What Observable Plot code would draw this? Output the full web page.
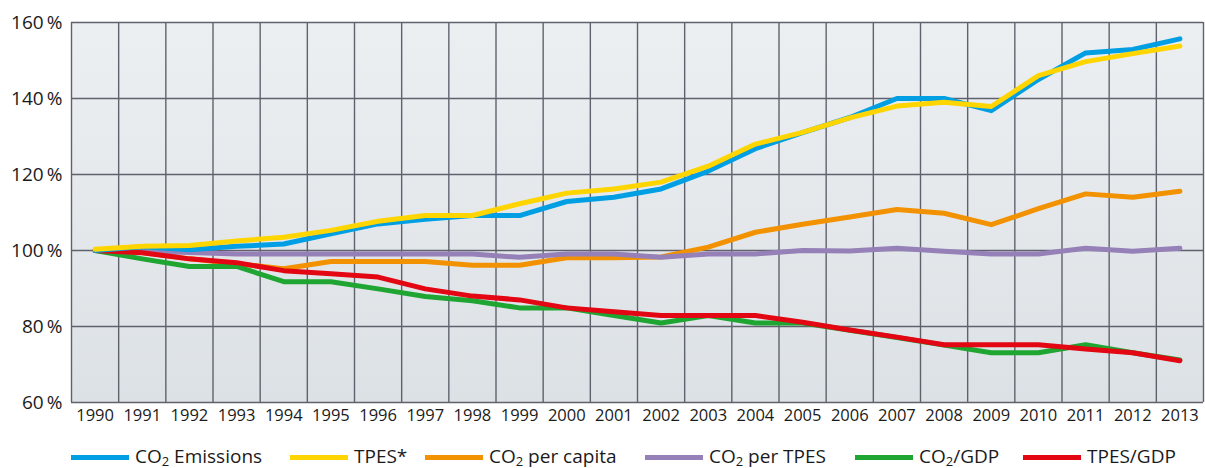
<!DOCTYPE html>
<html>
<head>
<meta charset="utf-8">
<script src="https://cdn.jsdelivr.net/npm/d3@7"></script>
<script src="https://cdn.jsdelivr.net/npm/@observablehq/plot@0.6"></script>
<style>
  body { margin: 0; background: #fff; font-family: "Open Sans", "Noto Sans", sans-serif; }
  #wrap { position: relative; width: 1205px; height: 468px; }
  #legend { position: absolute; left: 0; top: 430px; width: 1205px; height: 38px; }
  .item { position: absolute; top: 14px; height: 26px; display: flex; align-items: center; font-size: 19px; line-height: 26px; color: #1a1a1a; white-space: nowrap; }
  .sw { display: inline-block; width: 58px; height: 5px; margin-right: 6px; }
  .lbl { display: inline-block; height: 26px; line-height: 24px; }
  sub { font-size: 13px; vertical-align: -3px; line-height: 0; }
</style>
</head>
<body>
<div id="wrap"><div id="chart"></div><div id="legend"></div></div>
<script>
const years = [1990, 1991, 1992, 1993, 1994, 1995, 1996, 1997, 1998, 1999, 2000, 2001, 2002, 2003, 2004, 2005, 2006, 2007, 2008, 2009, 2010, 2011, 2012, 2013];
const co2Emissions = [100, 101, 100.2, 101.1, 101.7, 104.4, 107, 108.2, 109.2, 109.2, 112.9, 114, 116.2, 120.9, 126.8, 131, 135, 140, 140, 136.8, 145, 152, 152.9, 155.7];
const tpes = [100.3, 101.1, 101.3, 102.5, 103.5, 105.3, 107.7, 109.2, 109.2, 112.3, 115.1, 116.2, 118, 122.2, 128, 131.1, 134.9, 138, 139, 137.9, 146, 149.7, 151.8, 153.8];
const co2PerCapita = [100, 99.5, 97.8, 96.5, 95.2, 97.1, 97.1, 97.1, 96.1, 96.1, 98.1, 98.1, 98.3, 100.9, 104.8, 106.9, 108.8, 110.8, 109.8, 106.8, 111, 114.9, 114, 115.6];
const co2PerTpes = [100, 99.8, 99.5, 99.1, 99.1, 99.1, 99.1, 99.1, 99.1, 98.2, 99.1, 99.1, 98.2, 99.1, 99.1, 100, 99.9, 100.6, 99.8, 99.1, 99.1, 100.6, 99.8, 100.6];
const co2PerGdp = [100, 97.8, 95.8, 95.8, 91.8, 91.8, 89.9, 87.9, 86.8, 84.9, 84.9, 82.9, 80.9, 82.9, 80.9, 80.9, 79, 77.1, 75.1, 73.1, 73.1, 75.2, 73.1, 71.2];
const tpesPerGdp = [100, 99.4, 97.8, 96.8, 94.7, 93.9, 93, 89.9, 88, 87, 84.9, 83.9, 82.9, 82.9, 82.9, 81.1, 79.1, 77.2, 75.2, 75.2, 75.2, 74.1, 73.1, 71];
const yTicks = [60, 80, 100, 120, 140, 160];

const seriesNames = ["CO2 Emissions", "TPES*", "CO2 per capita", "CO2 per TPES", "CO2/GDP", "TPES/GDP"];
const seriesLabels = ["CO<sub>2</sub> Emissions", "TPES*", "CO<sub>2</sub> per capita", "CO<sub>2</sub> per TPES", "CO<sub>2</sub>/GDP", "TPES/GDP"];
const seriesValues = [co2Emissions, tpes, co2PerCapita, co2PerTpes, co2PerGdp, tpesPerGdp];
const seriesColors = ["#009fe3", "#ffd500", "#f39200", "#9580b8", "#1ea532", "#e30613"];
const drawOrder = [2, 3, 4, 5, 0, 1];
const legendX = [71, 290, 425, 645, 855, 1023];

const rows = [];
drawOrder.forEach(i => {
  seriesValues[i].forEach((v, j) => rows.push({series: seriesNames[i], year: years[j], value: v}));
});

const bandEdges = [years[0] - 0.5, ...years.map(y => y + 0.5)];

const plot = Plot.plot({
  width: 1205,
  height: 430,
  marginLeft: 71,
  marginRight: 2,
  marginTop: 22,
  marginBottom: 28,
  style: {fontFamily: "'Open Sans', 'Noto Sans', sans-serif", background: "transparent"},
  x: {domain: [years[0] - 0.5, years[years.length - 1] + 0.5]},
  y: {domain: [60, 160]},
  color: {domain: seriesNames, range: seriesColors},
  marks: [
    Plot.frame({fill: "url(#bgGrad)", stroke: null}),
    Plot.ruleX(bandEdges, {stroke: "#5f626d", strokeWidth: 1.4}),
    Plot.ruleY(yTicks, {stroke: "#5f626d", strokeWidth: 1.4}),
    Plot.line(rows, {x: "year", y: "value", z: "series", stroke: "series", strokeWidth: 5, strokeLinecap: "round", strokeLinejoin: "round"}),
    Plot.axisX({ticks: years, tickFormat: d => String(d), tickSize: 0, tickPadding: 7, fontSize: 16.5, fill: "#1a1a1a", label: null}),
    Plot.axisY({ticks: yTicks, tickFormat: d => d + "\u2009%", tickSize: 0, tickPadding: 9, fontSize: 19, fill: "#1a1a1a", label: null})
  ]
});

const svg = d3.select(plot);
const defs = svg.insert("defs", ":first-child");
const grad = defs.append("linearGradient").attr("id", "bgGrad").attr("x1", 0).attr("y1", 0).attr("x2", 0).attr("y2", 1);
grad.append("stop").attr("offset", "0%").attr("stop-color", "#eceff2");
grad.append("stop").attr("offset", "100%").attr("stop-color", "#dce1e5");

document.getElementById("chart").appendChild(plot);

const legend = document.getElementById("legend");
seriesNames.forEach((name, i) => {
  const item = document.createElement("div");
  item.className = "item";
  item.style.left = legendX[i] + "px";
  item.innerHTML = `<span class="sw" style="background:${seriesColors[i]}"></span><span class="lbl">${seriesLabels[i]}</span>`;
  legend.appendChild(item);
});
</script>
</body>
</html>
